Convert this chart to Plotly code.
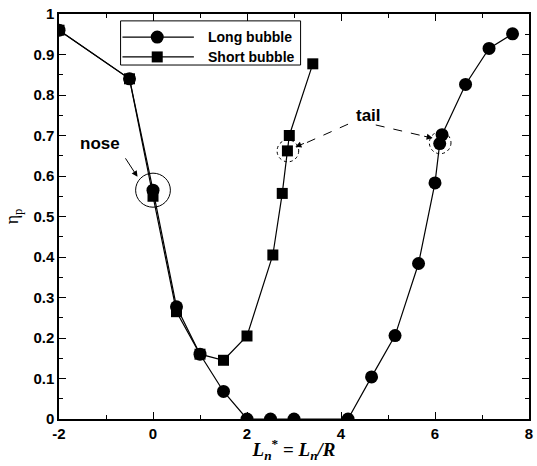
import plotly.graph_objects as go

# Pressure-recovery efficiency against nondimensional axial position
long_x = [-2.0, -0.5, 0.0, 0.5, 1.0, 1.5, 2.0, 2.5, 3.0, 4.15, 4.65, 5.15, 5.65, 6.0, 6.1, 6.15, 6.65, 7.15, 7.65]
long_y = [0.96, 0.84, 0.565, 0.277, 0.16, 0.068, 0.0, 0.0, 0.0, 0.0, 0.104, 0.206, 0.384, 0.583, 0.68, 0.702, 0.826, 0.915, 0.951]

short_x = [-2.0, -0.5, 0.0, 0.5, 1.0, 1.5, 2.0, 2.55, 2.75, 2.86, 2.9, 3.4]
short_y = [0.96, 0.84, 0.55, 0.265, 0.16, 0.145, 0.205, 0.405, 0.557, 0.662, 0.70, 0.877]

series_names = ["Long bubble", "Short bubble"]

x_ticks = [-2, 0, 2, 4, 6, 8]
y_ticks = [0, 0.1, 0.2, 0.3, 0.4, 0.5, 0.6, 0.7, 0.8, 0.9, 1.0]
y_labels = ["0", "0.1", "0.2", "0.3", "0.4", "0.5", "0.6", "0.7", "0.8", "0.9", "1"]

SANS = "Liberation Sans"

fig = go.Figure()
fig.add_trace(go.Scatter(
    x=long_x, y=long_y, mode="lines+markers", name=series_names[0], showlegend=False,
    line=dict(color="black", width=1.2),
    marker=dict(symbol="circle", size=13, color="black"),
))
fig.add_trace(go.Scatter(
    x=short_x, y=short_y, mode="lines+markers", name=series_names[1], showlegend=False,
    line=dict(color="black", width=1.2),
    marker=dict(symbol="square", size=11, color="black"),
))

# highlight circles: nose (solid) and the two tails (dashed)
fig.add_shape(type="circle", xref="x", yref="y", x0=-0.37, x1=0.37, y0=0.523, y1=0.607,
              line=dict(color="black", width=1))
fig.add_shape(type="circle", xref="x", yref="y", x0=2.64, x1=3.1, y0=0.635, y1=0.689,
              line=dict(color="black", width=1, dash="dot"))
fig.add_shape(type="circle", xref="x", yref="y", x0=5.88, x1=6.34, y0=0.655, y1=0.709,
              line=dict(color="black", width=1, dash="dot"))

# dashed leader lines from the "tail" label
fig.add_shape(type="line", xref="x", yref="y", x0=4.15, y0=0.728, x1=3.05, y1=0.671,
              line=dict(color="black", width=1, dash="dash"))
fig.add_shape(type="line", xref="x", yref="y", x0=4.74, y0=0.726, x1=5.93, y1=0.694,
              line=dict(color="black", width=1, dash="dash"))

# arrowheads
arrow = dict(xref="x", yref="y", text="", showarrow=True, arrowhead=2,
             arrowsize=1.2, arrowwidth=1, arrowcolor="black")
fig.add_annotation(x=-0.33, y=0.598, ax=-13, ay=-20, **arrow)
fig.add_annotation(x=3.03, y=0.672, ax=10, ay=-4, **arrow)
fig.add_annotation(x=5.95, y=0.694, ax=-10, ay=-2, **arrow)

# labels
label_font = dict(family=SANS, size=17, color="black", weight="bold")
fig.add_annotation(x=-1.12, y=0.68, xref="x", yref="y", text="nose", showarrow=False, font=label_font)
fig.add_annotation(x=4.58, y=0.75, xref="x", yref="y", text="tail", showarrow=False, font=label_font)

# boxed key in the upper left of the plot area
fig.add_shape(type="rect", xref="paper", yref="paper", x0=0.131, x1=0.514, y0=0.874, y1=0.983,
              line=dict(color="black", width=1), fillcolor="white", layer="above")
key_rows = [0.943, 0.894]
key_symbols = ["circle", "rect"]
key_half = [6.5, 5.5]
for name, row, sym, h in zip(series_names, key_rows, key_symbols, key_half):
    fig.add_shape(type="line", xref="paper", yref="paper", x0=0.135, x1=0.287, y0=row, y1=row,
                  line=dict(color="black", width=1.2), layer="above")
    fig.add_shape(type=sym, xref="paper", yref="paper", xsizemode="pixel", ysizemode="pixel",
                  xanchor=0.209, yanchor=row, x0=-h, x1=h, y0=-h, y1=h,
                  fillcolor="black", line=dict(color="black", width=0), layer="above")
    fig.add_annotation(x=0.312, y=row, xref="paper", yref="paper", text=name, showarrow=False,
                       xanchor="left", yanchor="middle",
                       font=dict(family=SANS, size=14, color="black", weight="bold"))

axis_common = dict(
    showgrid=False, zeroline=False, showline=True, linecolor="black", linewidth=1.5,
    mirror="allticks", ticks="inside", ticklen=7, tickwidth=1, tickcolor="black",
    tickfont=dict(family=SANS, size=15, color="black", weight="bold"),
)

fig.update_xaxes(
    range=[-2, 8], tickvals=x_ticks, ticktext=[str(v) for v in x_ticks],
    minor=dict(ticks="inside", ticklen=4, dtick=1, tickcolor="black"),
    title=dict(text="<i>L</i><sub><i>n</i></sub><sup>*</sup> = <i>L</i><sub><i>n</i></sub><i>/R</i>",
               font=dict(family="Liberation Serif", size=19, color="black", weight="bold"), standoff=2),
    **axis_common,
)
fig.update_yaxes(
    range=[0, 1], tickvals=y_ticks, ticktext=y_labels,
    minor=dict(ticks="inside", ticklen=4, dtick=0.05, tickcolor="black"),
    title=dict(text="η<sub>p</sub>", font=dict(family="Liberation Serif", size=18, color="black"), standoff=10),
    **axis_common,
)

fig.update_layout(
    width=537, height=466,
    margin=dict(l=59, r=4, t=14, b=47),
    plot_bgcolor="white", paper_bgcolor="white",
    showlegend=False,
)

fig.write_html("out.html")
